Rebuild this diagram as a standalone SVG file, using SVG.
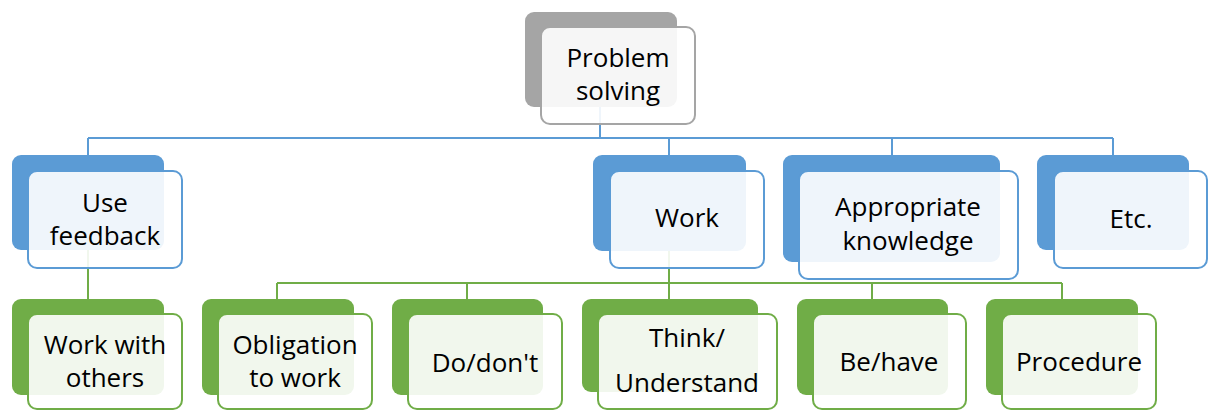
<svg xmlns="http://www.w3.org/2000/svg" width="1211" height="411" viewBox="0 0 1211 411">
<style>
.bk{stroke:none}
.fr{fill:#ffffff;fill-opacity:0.9;stroke-width:2}
.g .bk{fill:#a5a5a5}.g .fr{stroke:#a5a5a5}
.b .bk{fill:#5b9bd5}.b .fr{stroke:#5b9bd5}
.n .bk{fill:#70ad47}.n .fr{stroke:#70ad47}
text{font-family:"Open Sans","Noto Sans","Liberation Sans",sans-serif;font-size:26px;fill:#000;text-anchor:middle}
.cb{fill:none;stroke:#5b9bd5;stroke-width:2}
.cg{fill:none;stroke:#70ad47;stroke-width:2}
</style>
<g id="connectors">
<path class="cb" d="M600 107V138M88 138H1113M88 138V155M669 138V155M892 138V155M1113 138V155"/>
<path class="cg" d="M88 250V299M669 251V283M277 283H1062M277 283V299M467 283V299M669 283V299M872 283V299M1062 283V299"/>
</g>
<g id="n-problem" class="g">
<rect class="bk" x="525" y="12" width="152" height="95" rx="9"/>
<rect class="fr" x="541" y="27" width="154" height="97" rx="9"/>
<text x="618" y="67">Problem</text><text x="618" y="100">solving</text>
</g>
<g id="n-usefeedback" class="b">
<rect class="bk" x="12" y="155" width="152" height="95" rx="9"/>
<rect class="fr" x="28" y="171" width="154" height="97" rx="9"/>
<text x="105" y="212">Use</text><text x="105" y="245">feedback</text>
</g>
<g id="n-work" class="b">
<rect class="bk" x="593" y="155" width="153" height="96" rx="9"/>
<rect class="fr" x="610" y="171" width="154" height="97" rx="9"/>
<text x="687" y="227">Work</text>
</g>
<g id="n-knowledge" class="b">
<rect class="bk" x="783" y="155" width="217" height="107" rx="9"/>
<rect class="fr" x="799" y="171" width="219" height="108" rx="9"/>
<text x="908" y="216">Appropriate</text><text x="908" y="250">knowledge</text>
</g>
<g id="n-etc" class="b">
<rect class="bk" x="1037" y="155" width="152" height="95" rx="9"/>
<rect class="fr" x="1054" y="171" width="153" height="97" rx="9"/>
<text x="1131" y="228">Etc.</text>
</g>
<g id="n-workothers" class="n">
<rect class="bk" x="12" y="299" width="152" height="96" rx="9"/>
<rect class="fr" x="28" y="314" width="154" height="95" rx="9"/>
<text x="105" y="354">Work with</text><text x="105" y="387">others</text>
</g>
<g id="n-obligation" class="n">
<rect class="bk" x="202" y="299" width="152" height="96" rx="9"/>
<rect class="fr" x="218" y="314" width="154" height="95" rx="9"/>
<text x="295" y="354">Obligation</text><text x="295" y="387">to work</text>
</g>
<g id="n-dodont" class="n">
<rect class="bk" x="392" y="299" width="151" height="96" rx="9"/>
<rect class="fr" x="408" y="314" width="154" height="95" rx="9"/>
<text x="485" y="372">Do/don't</text>
</g>
<g id="n-think" class="n">
<rect class="bk" x="582" y="299" width="176" height="93" rx="9"/>
<rect class="fr" x="598" y="314" width="179" height="95" rx="9"/>
<text x="687" y="347">Think/</text><text x="687" y="392">Understand</text>
</g>
<g id="n-behave" class="n">
<rect class="bk" x="797" y="299" width="151" height="96" rx="9"/>
<rect class="fr" x="813" y="314" width="153" height="95" rx="9"/>
<text x="889" y="371">Be/have</text>
</g>
<g id="n-procedure" class="n">
<rect class="bk" x="986" y="299" width="152" height="96" rx="9"/>
<rect class="fr" x="1002" y="314" width="154" height="95" rx="9"/>
<text x="1079" y="371">Procedure</text>
</g>
</svg>
